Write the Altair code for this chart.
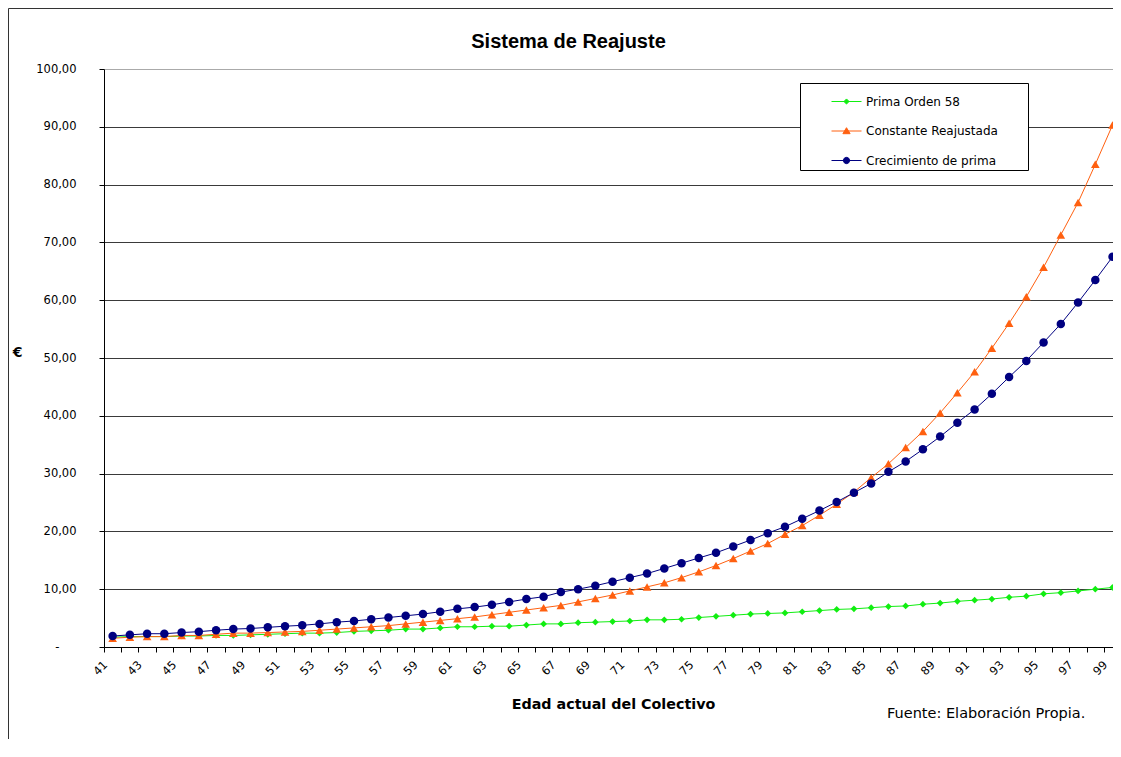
import altair as alt
import pandas as pd

# ---------------- data ----------------
ages = list(range(41, 100))
prima_orden_58 = [1.7, 1.8, 1.8, 1.8, 1.9, 1.9, 2.0, 2.0, 2.1, 2.2,
                  2.3, 2.4, 2.4, 2.5, 2.7, 2.8, 2.9, 3.1, 3.1, 3.3,
                  3.5, 3.5, 3.6, 3.6, 3.8, 4.0, 4.0, 4.2, 4.3, 4.4,
                  4.5, 4.7, 4.7, 4.8, 5.1, 5.3, 5.5, 5.7, 5.8, 5.9,
                  6.1, 6.3, 6.5, 6.6, 6.8, 7.0, 7.1, 7.4, 7.6, 7.9,
                  8.1, 8.3, 8.6, 8.8, 9.2, 9.4, 9.7, 10.0, 10.3]
constante_reajustada = [1.5, 1.7, 1.8, 1.8, 2.0, 2.0, 2.2, 2.4, 2.4, 2.5,
                        2.6, 2.7, 2.9, 3.1, 3.3, 3.5, 3.7, 4.0, 4.3, 4.6,
                        4.9, 5.2, 5.6, 6.0, 6.4, 6.8, 7.2, 7.8, 8.4, 9.0,
                        9.7, 10.4, 11.1, 12.0, 13.0, 14.1, 15.3, 16.6, 17.9, 19.5,
                        21.0, 22.8, 24.7, 26.8, 29.3, 31.7, 34.5, 37.3, 40.5, 44.0,
                        47.6, 51.7, 56.0, 60.6, 65.7, 71.3, 76.9, 83.5, 90.3]
crecimiento_prima = [1.9, 2.1, 2.3, 2.3, 2.5, 2.65, 2.9, 3.1, 3.2, 3.4,
                     3.6, 3.75, 4.0, 4.3, 4.5, 4.8, 5.1, 5.4, 5.7, 6.1,
                     6.6, 6.9, 7.3, 7.8, 8.3, 8.7, 9.5, 10.0, 10.6, 11.3,
                     12.0, 12.7, 13.6, 14.5, 15.4, 16.3, 17.4, 18.5, 19.7, 20.8,
                     22.2, 23.6, 25.1, 26.7, 28.3, 30.3, 32.1, 34.2, 36.4, 38.8,
                     41.1, 43.8, 46.7, 49.5, 52.7, 55.9, 59.6, 63.5, 67.5]

series_names = ["Prima Orden 58", "Constante Reajustada", "Crecimiento de prima"]
series_values = [prima_orden_58, constante_reajustada, crecimiento_prima]
y_ticks = [0, 10, 20, 30, 40, 50, 60, 70, 80, 90, 100]

title_text = "Sistema de Reajuste"
x_title = "Edad actual del Colectivo"
y_title = "€"
source_text = "Fuente: Elaboración Propia."

# ---------------- styles ----------------
colors = ["#11ee11", "#ff6010", "#000080"]
shapes = ["diamond", "triangle-up", "circle"]
sizes = [45, 75, 72]
legend_paths = [
    "M-1,0H1M0,-0.17L0.17,0L0,0.17L-0.17,0Z",
    "M-1,0H1M0,-0.22L0.24,0.18L-0.24,0.18Z",
    "M-1,0H1M0.21,0A0.21,0.21,0,1,1,-0.21,0A0.21,0.21,0,1,1,0.21,0Z",
]

W = 1009
H = 578
XMIN = 40.5
BAND = 17.24
XMAX = XMIN + W / BAND
HALF = BAND / 2

rows = []
for name, vals in zip(series_names, series_values):
    for a, v in zip(ages, vals):
        rows.append({"age": a, "value": v, "series": name})
df = pd.DataFrame(rows)

small_font = "DejaVu Sans"

x_enc = alt.X(
    "age:Q",
    scale=alt.Scale(domain=[XMIN, XMAX], nice=False, zero=False),
    axis=alt.Axis(
        values=ages,
        tickOffset=-HALF,
        labelOffset=HALF - 7,
        labelExpr="datum.value % 2 == 1 ? '' + datum.value : ''",
        labelAngle=-45,
        labelAlign="right",
        labelBaseline="middle",
        labelPadding=11,
        labelFlush=False,
        labelOverlap=False,
        labelBound=False,
        labelFont=small_font,
        labelFontSize=11.5,
        labelColor="black",
        tickSize=5,
        tickColor="black",
        domainColor="black",
        grid=False,
        title=x_title,
        titleFont=small_font,
        titleFontSize=14.3,
        titleFontWeight="bold",
        titleColor="black",
        titleX=509,
        titleY=57,
        titleBaseline="middle",
        titleAlign="center",
    ),
)

y_enc = alt.Y(
    "value:Q",
    scale=alt.Scale(domain=[0, 100], nice=False),
    axis=alt.Axis(
        values=y_ticks,
        labelExpr="datum.value == 0 ? '-' : replace(format(datum.value, '.2f'), '.', ',')",
        labelFont=small_font,
        labelFontSize=11.5,
        labelColor="black",
        labelPadding={"condition": {"test": "datum.value === 0", "value": 40}, "value": 23},
        tickSize=5,
        tickColor="black",
        domainColor="black",
        grid=True,
        gridColor={"condition": {"test": "datum.value === 100", "value": "#aaaaaa"}, "value": "#3a3a3a"},
        gridWidth=1,
        title=y_title,
        titleAngle=0,
        titleFont=small_font,
        titleFontSize=14,
        titleFontWeight="bold",
        titleColor="black",
        titleX=-87,
        titleY=283,
        titleAlign="center",
        titleBaseline="middle",
    ),
)

base = alt.Chart(df).encode(x=x_enc, y=y_enc)

layers = []
for name, col, shp, sz in zip(series_names, colors, shapes, sizes):
    f = base.transform_filter(alt.datum.series == name)
    layers.append(f.mark_line(color=col, strokeWidth=1))
    layers.append(f.mark_point(color=col, shape=shp, size=sz, filled=True, opacity=1))

legend_df = pd.DataFrame({"series": series_names})
leg = alt.Legend(
    title=None,
    orient="none",
    legendX=696,
    legendY=14,
    padding=3,
    symbolOffset=28,
    labelOffset=4,
    rowPadding=7.5,
    symbolSize=900,
    symbolStrokeWidth=1,
    symbolOpacity=1,
    labelFont=small_font,
    labelFontSize=12,
    labelColor="black",
    labelExpr="datum.label + '\u2800\u2800\u2800'",
    strokeColor="black",
    fillColor="white",
    cornerRadius=0,
)
legend_layer = alt.Chart(legend_df).mark_point(opacity=0, filled=True).encode(
    shape=alt.Shape("series:N", scale=alt.Scale(domain=series_names, range=legend_paths), legend=leg),
    fill=alt.Fill("series:N", scale=alt.Scale(domain=series_names, range=colors), legend=leg),
    stroke=alt.Stroke("series:N", scale=alt.Scale(domain=series_names, range=colors), legend=leg),
)

src = alt.Chart(pd.DataFrame({"t": [source_text]})).mark_text(
    font=small_font, fontSize=14.5, color="black", align="left", baseline="middle"
).encode(text="t:N", x=alt.value(783), y=alt.value(645))

frame_df = pd.DataFrame({"k": [0]})
frame_left = alt.Chart(frame_df).mark_rule(color="#333333", strokeWidth=1).encode(
    x=alt.value(-95.5), y=alt.value(-60.5), y2=alt.value(700)
)
frame_top = alt.Chart(frame_df).mark_rule(color="#333333", strokeWidth=1).encode(
    x=alt.value(-95.5), x2=alt.value(W), y=alt.value(-60.5)
)

chart = alt.layer(frame_left, frame_top, *layers, legend_layer, src).properties(
    width=W,
    height=H,
    title=alt.TitleParams(
        title_text,
        font="Liberation Sans",
        fontSize=20,
        fontWeight="bold",
        color="black",
        anchor="middle",
        frame="group",
        baseline="alphabetic",
        dx=-40,
        offset=-60,
    ),
    autosize=alt.AutoSizeParams(type="none"),
    padding={"left": 96, "top": 61, "right": 0, "bottom": 92},
    background="white",
).configure_view(strokeWidth=0)

chart.save("out.html", embed_options={"renderer": "svg", "actions": False})
